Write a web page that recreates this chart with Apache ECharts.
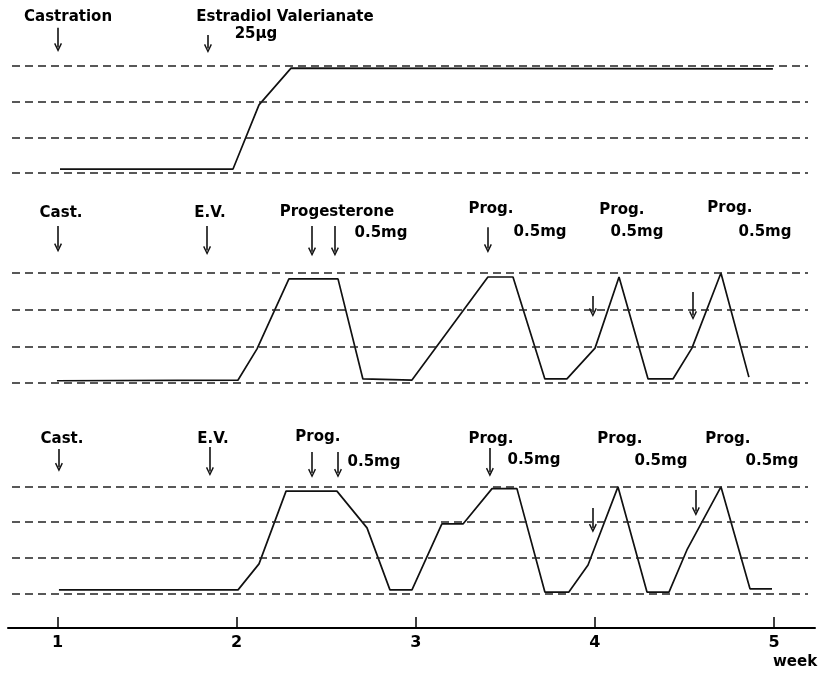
<!DOCTYPE html>
<html><head><meta charset="utf-8">
<script src="https://cdn.jsdelivr.net/npm/echarts@6/dist/echarts.min.js"></script>
<style>html,body{margin:0;padding:0;background:#fff}#c{width:820px;height:673px}</style>
</head><body><div id="c"></div>
<script>
// ---- data (weeks on x, smear level 0..3 on y) ----
const levels = [0, 1, 2, 3];
const weekTicks = [1, 2, 3, 4, 5];

const p1Weeks  = [1.014, 1.980, 2.125, 2.304, 4.994];
const p1Levels = [0.11, 0.11, 1.91, 2.94, 2.92];

const p2Weeks  = [0.997, 2.008, 2.114, 2.208, 2.292, 2.566, 2.705, 2.979, 3.403, 3.543, 3.721, 3.844, 4.001, 4.135, 4.297, 4.436, 4.542, 4.704, 4.860];
const p2Levels = [0.06, 0.08, 0.93, 1.94, 2.84, 2.84, 0.11, 0.08, 2.89, 2.89, 0.11, 0.11, 0.95, 2.89, 0.11, 0.11, 0.95, 3.00, 0.16];

const p3Weeks  = [1.008, 2.008, 2.125, 2.276, 2.560, 2.728, 2.856, 2.979, 3.146, 3.264, 3.426, 3.565, 3.721, 3.855, 3.962, 4.129, 4.291, 4.414, 4.514, 4.704, 4.866, 4.989];
const p3Levels = [0.10, 0.10, 0.83, 2.87, 2.87, 1.84, 0.10, 0.10, 1.95, 1.95, 2.94, 2.94, 0.04, 0.04, 0.80, 2.99, 0.04, 0.04, 1.22, 2.99, 0.13, 0.13];

// annotation labels: [text, week, level]
const p1Labels = [["Castration", 1.059, 4.37], ["Estradiol Valerianate", 2.270, 4.37], ["25μg", 2.108, 3.90]];
const p2Labels = [["Cast.", 1.020, 4.64], ["E.V.", 1.851, 4.64], ["Progesterone", 2.560, 4.66], ["0.5mg", 2.806, 4.09],
                  ["Prog.", 3.420, 4.75], ["0.5mg", 3.694, 4.12], ["Prog.", 4.151, 4.72], ["0.5mg", 4.235, 4.12],
                  ["Prog.", 4.754, 4.77], ["0.5mg", 4.950, 4.12]];
const p3Labels = [["Cast.", 1.025, 4.33], ["E.V.", 1.868, 4.33], ["Prog.", 2.454, 4.39], ["0.5mg", 2.767, 3.69],
                  ["Prog.", 3.420, 4.33], ["0.5mg", 3.660, 3.74], ["Prog.", 4.140, 4.33], ["0.5mg", 4.369, 3.71],
                  ["Prog.", 4.743, 4.33], ["0.5mg", 4.989, 3.71]];

// injection arrows: [week, fromLevel, toLevel]
const p1Arrows = [[1.003, 4.07, 3.52], [1.840, 3.87, 3.49]];
const p2Arrows = [[1.003, 4.28, 3.69], [1.835, 4.28, 3.61], [2.421, 4.28, 3.58], [2.549, 4.28, 3.58],
                  [3.403, 4.25, 3.67], [3.989, 2.37, 1.92], [4.548, 2.48, 1.84]];
const p3Arrows = [[1.008, 4.05, 3.54], [1.851, 4.11, 3.42], [2.421, 3.97, 3.37], [2.566, 3.97, 3.37],
                  [3.414, 4.08, 3.40], [3.989, 2.40, 1.83], [4.564, 2.90, 2.30]];

// ---- chart ----
const INK = '#000';
const FONT = 'DejaVu Sans';
const chevron = 'path://M5,0 L10,9 L8.4,9.8 L5,3.4 L1.6,9.8 L0,9 Z';

const panels = [
  { weeks: p1Weeks, vals: p1Levels, labels: p1Labels, arrows: p1Arrows, top: 3.6,   height: 187.2, ymin: -0.5, ymax: 4.75 },
  { weeks: p2Weeks, vals: p2Levels, labels: p2Labels, arrows: p2Arrows, top: 192.3, height: 209.0, ymin: -0.5, ymax: 5.2 },
  { weeks: p3Weeks, vals: p3Levels, labels: p3Labels, arrows: p3Arrows, top: 422.3, height: 189.0, ymin: -0.5, ymax: 4.8 }
];

const grid = [], xAxis = [], yAxis = [], series = [];
panels.forEach((p, i) => {
  grid.push({ left: 12, width: 796, top: p.top, height: p.height });
  xAxis.push({ type: 'value', gridIndex: i, min: 0.746, max: 5.190, show: false });
  yAxis.push({ type: 'value', gridIndex: i, min: p.ymin, max: p.ymax, show: false });
  series.push({
    type: 'line', xAxisIndex: i, yAxisIndex: i,
    data: p.weeks.map((w, k) => [w, p.vals[k]]),
    showSymbol: false, symbol: 'none',
    lineStyle: { color: '#111', width: 1.7 },
    markLine: {
      silent: true, symbol: 'none', label: { show: false },
      lineStyle: { color: '#222', width: 1.5, type: [8, 5] },
      data: levels.map(l => ({ yAxis: l }))
    }
  });
  series.push({
    type: 'line', xAxisIndex: i, yAxisIndex: i, data: [],
    markLine: {
      silent: true, symbol: ['none', chevron], symbolSize: [8, 9],
      label: { show: false },
      lineStyle: { color: '#111', width: 1.6, type: 'solid' },
      data: p.arrows.map(a => [{ coord: [a[0], a[1]] }, { coord: [a[0], a[2]] }])
    }
  });
  series.push({
    type: 'scatter', xAxisIndex: i, yAxisIndex: i,
    symbolSize: 1, itemStyle: { color: 'rgba(0,0,0,0)', opacity: 1 }, silent: true,
    data: p.labels.map(t => ({ name: t[0], value: [t[1], t[2]] })),
    label: { show: true, position: 'inside', formatter: '{b}', color: INK, opacity: 1,
             fontSize: 15, fontWeight: 'bold', fontFamily: FONT, textBorderWidth: 0 }
  });
});

// bottom week axis
grid.push({ left: 8, width: 807, top: 600, height: 28 });
xAxis.push({
  type: 'value', gridIndex: 3, min: 0.7237, max: 5.2287, position: 'bottom',
  axisLine: { show: true, lineStyle: { color: INK, width: 2 } },
  axisTick: { show: true, inside: true, length: 11, customValues: weekTicks, lineStyle: { color: INK, width: 1.5 } },
  axisLabel: { show: true, customValues: weekTicks, margin: 7, color: INK, fontSize: 16, fontWeight: 'bold', fontFamily: FONT },
  splitLine: { show: false }
});
yAxis.push({ type: 'value', gridIndex: 3, min: 0, max: 1, show: false });

const chart = echarts.init(document.getElementById('c'), null, { renderer: 'canvas' });
chart.setOption({
  animation: false,
  backgroundColor: '#fff',
  grid, xAxis, yAxis, series,
  graphic: [{ type: 'text', left: 773, top: 655, style: { text: 'week', fill: INK, font: 'bold 15px "DejaVu Sans"' } }]
});
</script>
</body></html>
